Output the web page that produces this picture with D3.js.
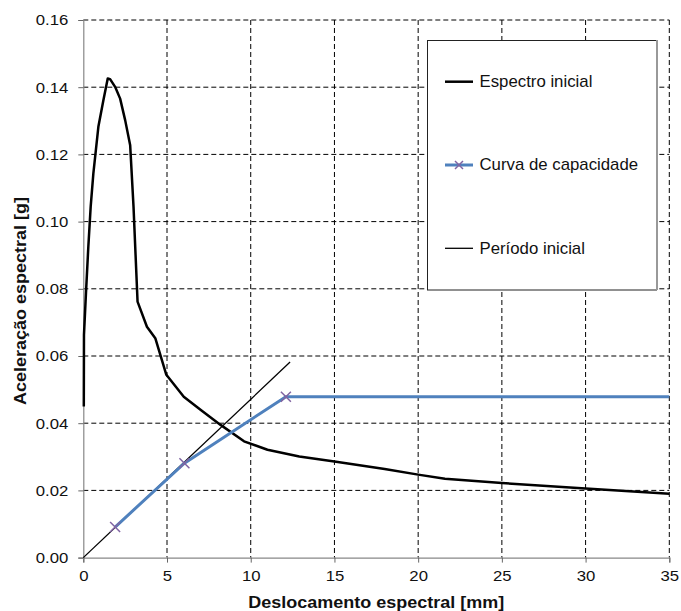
<!DOCTYPE html>
<html><head><meta charset="utf-8">
<script src="https://cdn.jsdelivr.net/npm/d3@7"></script>
<style>body{margin:0;background:#fff}svg{font-family:"Liberation Sans",Arial,sans-serif}</style>
</head><body>
<svg id="c" width="681" height="611"></svg>
<script>
const spectrumX = [0.03,0.04,0.16,0.3,0.44,0.6,0.9,1.2,1.46,1.6,1.9,2.2,2.5,2.8,3.0,3.24,3.8,4.3,4.96,6.0,7.0,8.2,9.6,11.0,12.9,15,18,20,21.6,25,30,35];
const spectrumY = [0.045,0.0663,0.0788,0.0925,0.1044,0.1143,0.1282,0.1361,0.1426,0.1424,0.1401,0.1366,0.1302,0.1227,0.1044,0.0762,0.0687,0.0653,0.0544,0.0479,0.044,0.0395,0.0346,0.0321,0.0301,0.0286,0.0264,0.0247,0.0235,0.0222,0.0206,0.019];
const capacityX = [1.9,6.04,12.1,35];
const capacityY = [0.0091,0.0281,0.0479,0.0479];
const capacityMarked = [true,true,true,false];
const periodX = [0,12.35];
const periodY = [0,0.0582];
const xTicks = [0,5,10,15,20,25,30,35];
const yTicks = [0,0.02,0.04,0.06,0.08,0.10,0.12,0.14,0.16];
const legendLabels = ["Espectro inicial","Curva de capacidade","Período inicial"];

const svg = d3.select("#c");
const L=83.3, R=669.3, T=20, B=557.6;
const x = d3.scaleLinear().domain([0,35]).range([L,R]);
const y = d3.scaleLinear().domain([0,0.16]).range([B,T]);

function stretch(sel, sx){
  sel.each(function(){
    const t=d3.select(this); const tx=+t.attr("x")||0;
    t.attr("x",0).attr("transform",`translate(${tx},0) scale(${sx},1)`);
  });
}

// grid
const g = svg.append("g");
g.selectAll(".gx").data(xTicks.filter(d=>d>0)).join("line")
 .attr("x1",d=>x(d)).attr("x2",d=>x(d)).attr("y1",T).attr("y2",B)
 .attr("stroke","#000").attr("stroke-width",1).attr("stroke-dasharray","5,3");
g.selectAll(".gy").data(yTicks.filter(d=>d>0)).join("line")
 .attr("x1",L).attr("x2",R).attr("y1",d=>y(d)).attr("y2",d=>y(d))
 .attr("stroke","#000").attr("stroke-width",1).attr("stroke-dasharray","5,3");

// axes
const xa = svg.append("g").attr("transform",`translate(0,${B})`)
 .call(d3.axisBottom(x).tickValues(xTicks).tickSize(5).tickPadding(7).tickFormat(d3.format("d")));
const ya = svg.append("g").attr("transform",`translate(${L},0)`)
 .call(d3.axisLeft(y).tickValues(yTicks).tickSize(5).tickPadding(10).tickFormat(d3.format(".2f")));
[xa,ya].forEach(a=>{
  a.select(".domain").attr("stroke","#888").attr("stroke-width",1.2);
  a.selectAll(".tick line").attr("stroke","#666");
  a.selectAll("text").attr("font-size",15.5).attr("fill","#111").attr("font-family","Liberation Sans, Arial, sans-serif");
  stretch(a.selectAll("text"),1.08);
});

// period line
const line = d3.line().x(d=>x(d[0])).y(d=>y(d[1]));
svg.append("path").datum(periodX.map((v,i)=>[v,periodY[i]]))
 .attr("d",line).attr("fill","none").attr("stroke","#000").attr("stroke-width",1.3);
// spectrum
svg.append("path").datum(spectrumX.map((v,i)=>[v,spectrumY[i]]))
 .attr("d",line).attr("fill","none").attr("stroke","#000").attr("stroke-width",2.5).attr("stroke-linejoin","round");
// capacity
const cap = capacityX.map((v,i)=>[v,capacityY[i],capacityMarked[i]]);
svg.append("path").datum(cap).attr("d",line).attr("fill","none").attr("stroke","#4F81BD").attr("stroke-width",3);
const s=5;
svg.selectAll(".mk").data(cap.filter(d=>d[2])).join("path")
 .attr("d",d=>{const cx=x(d[0]),cy=y(d[1]);return `M${cx-s},${cy-s}L${cx+s},${cy+s}M${cx-s},${cy+s}L${cx+s},${cy-s}`;})
 .attr("stroke","#8064A2").attr("stroke-width",1.5);

// legend
const lg = svg.append("g");
lg.append("rect").attr("x",427.5).attr("y",40.5).attr("width",229).attr("height",249.5)
 .attr("fill","#fff").attr("stroke","#222").attr("stroke-width",1);
lg.append("line").attr("x1",657).attr("x2",657).attr("y1",40).attr("y2",290).attr("stroke","#999").attr("stroke-width",2);
const rows=[81.7,165,248.3];
legendLabels.forEach((t,i)=>{
  const yy=rows[i];
  const st = i===0?{c:"#000",w:2.5}:i===1?{c:"#4F81BD",w:3}:{c:"#000",w:1.3};
  lg.append("line").attr("x1",445).attr("x2",473).attr("y1",yy).attr("y2",yy).attr("stroke",st.c).attr("stroke-width",st.w);
  if(i===1){const cx=459;lg.append("path").attr("d",`M${cx-4},${yy-4}L${cx+4},${yy+4}M${cx-4},${yy+4}L${cx+4},${yy-4}`).attr("stroke","#8064A2").attr("stroke-width",1.5);}
  lg.append("text").attr("x",479.5).attr("y",yy+5.5).attr("font-size",16).attr("fill","#111")
    .attr("transform",`translate(479.5,0) scale(1.05,1) translate(-479.5,0)`).text(t);
});

// titles
svg.append("text").attr("transform",`translate(${(L+R)/2},608) scale(1.06,1)`).attr("text-anchor","middle")
 .attr("font-size",17).attr("font-weight","bold").attr("fill","#111").text("Deslocamento espectral [mm]");
svg.append("text").attr("transform","translate(26,301) rotate(-90) scale(1.06,1)").attr("text-anchor","middle")
 .attr("font-size",17).attr("font-weight","bold").attr("fill","#111").text("Aceleração espectral [g]");
</script>
</body></html>
